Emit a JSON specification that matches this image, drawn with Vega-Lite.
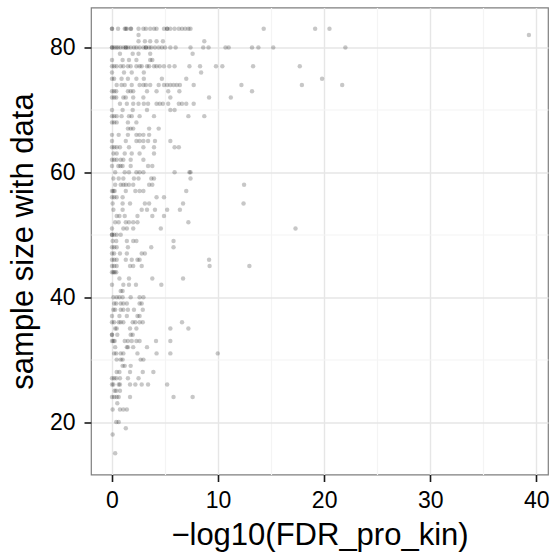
{
  "$schema": "https://vega.github.io/schema/vega-lite/v6.json",
  "autosize": {"type": "none"},
  "padding": {"left": 91, "top": 7.5, "right": 5, "bottom": 82.5},
  "width": 457,
  "height": 467,
  "background": "white",
  "config": {
    "view": {"stroke": "#7f7f7f", "strokeWidth": 1.2},
    "font": "Liberation Sans"
  },
  "datasets": {
    "pts": [
      {"x":0,"y":83},{"x":0,"y":83},{"x":0.57,"y":83},{"x":1.2,"y":83},{"x":1.3,"y":83},{"x":1.4,"y":83},{"x":1.76,"y":83},{"x":1.8,"y":83},{"x":2.5,"y":83},{"x":2.96,"y":83},{"x":3.2,"y":83},{"x":3.6,"y":83},{"x":3.96,"y":83},{"x":4.2,"y":83},{"x":4.9,"y":83},{"x":5.2,"y":83},{"x":5.2,"y":83},{"x":5.5,"y":83},{"x":5.9,"y":83},{"x":6.3,"y":83},{"x":6.6,"y":83},{"x":6.9,"y":83},{"x":7.2,"y":83},{"x":7.4,"y":83},{"x":14.3,"y":83},{"x":19.15,"y":83},{"x":20.5,"y":83},
      {"x":2.5,"y":82},{"x":39.3,"y":82},
      {"x":2.5,"y":81},{"x":3.1,"y":81},{"x":3.6,"y":81},{"x":4.2,"y":81},{"x":4.8,"y":81},{"x":8.7,"y":81},
      {"x":0,"y":80},{"x":0,"y":80},{"x":0.2,"y":80},{"x":0.4,"y":80},{"x":0.57,"y":80},{"x":0.8,"y":80},{"x":1.07,"y":80},{"x":1.3,"y":80},{"x":1.3,"y":80},{"x":1.5,"y":80},{"x":1.76,"y":80},{"x":2.07,"y":80},{"x":2.3,"y":80},{"x":2.6,"y":80},{"x":2.96,"y":80},{"x":3.2,"y":80},{"x":3.2,"y":80},{"x":3.5,"y":80},{"x":3.7,"y":80},{"x":4.05,"y":80},{"x":4.4,"y":80},{"x":4.7,"y":80},{"x":5.0,"y":80},{"x":5.5,"y":80},{"x":6.0,"y":80},{"x":7.4,"y":80},{"x":8.6,"y":80},{"x":9.1,"y":80},{"x":10.7,"y":80},{"x":11.0,"y":80},{"x":13.2,"y":80},{"x":13.8,"y":80},{"x":15.2,"y":80},{"x":22.0,"y":80},
      {"x":0.75,"y":79},{"x":1.95,"y":79},{"x":2.5,"y":79},{"x":3.6,"y":79},{"x":7.6,"y":79},
      {"x":0,"y":78},{"x":1.0,"y":78},{"x":1.6,"y":78},{"x":2.3,"y":78},{"x":3.6,"y":78},{"x":3.8,"y":78},
      {"x":0,"y":77},{"x":0.2,"y":77},{"x":0.44,"y":77},{"x":0.82,"y":77},{"x":1.07,"y":77},{"x":1.5,"y":77},{"x":1.76,"y":77},{"x":2.3,"y":77},{"x":2.6,"y":77},{"x":2.8,"y":77},{"x":3.3,"y":77},{"x":3.5,"y":77},{"x":3.96,"y":77},{"x":4.2,"y":77},{"x":4.5,"y":77},{"x":4.9,"y":77},{"x":5.4,"y":77},{"x":5.9,"y":77},{"x":7.3,"y":77},{"x":8.3,"y":77},{"x":9.8,"y":77},{"x":10.4,"y":77},{"x":13.3,"y":77},{"x":17.7,"y":77},
      {"x":0,"y":76},{"x":1.13,"y":76},{"x":1.86,"y":76},{"x":3.0,"y":76},{"x":8.4,"y":76},
      {"x":0,"y":75},{"x":0.2,"y":75},{"x":0.9,"y":75},{"x":1.5,"y":75},{"x":2.3,"y":75},{"x":3.0,"y":75},{"x":4.7,"y":75},{"x":7.0,"y":75},{"x":19.8,"y":75},
      {"x":0.44,"y":74},{"x":0.9,"y":74},{"x":1.2,"y":74},{"x":1.86,"y":74},{"x":2.6,"y":74},{"x":2.96,"y":74},{"x":3.2,"y":74},{"x":3.6,"y":74},{"x":4.4,"y":74},{"x":4.9,"y":74},{"x":5.2,"y":74},{"x":5.5,"y":74},{"x":5.8,"y":74},{"x":6.1,"y":74},{"x":6.4,"y":74},{"x":7.7,"y":74},{"x":12.2,"y":74},{"x":17.9,"y":74},{"x":21.7,"y":74},
      {"x":0,"y":73},{"x":0.2,"y":73},{"x":0.4,"y":73},{"x":1.5,"y":73},{"x":1.76,"y":73},{"x":2.0,"y":73},{"x":3.3,"y":73},{"x":4.2,"y":73},{"x":5.3,"y":73},{"x":6.35,"y":73},{"x":13.2,"y":73},
      {"x":0,"y":72},{"x":0.2,"y":72},{"x":0.4,"y":72},{"x":1.07,"y":72},{"x":1.3,"y":72},{"x":2.0,"y":72},{"x":2.96,"y":72},{"x":5.5,"y":72},{"x":9.15,"y":72},{"x":11.2,"y":72},
      {"x":0.75,"y":71},{"x":1.4,"y":71},{"x":2.0,"y":71},{"x":2.5,"y":71},{"x":3.0,"y":71},{"x":3.4,"y":71},{"x":4.2,"y":71},{"x":4.5,"y":71},{"x":4.8,"y":71},{"x":5.3,"y":71},{"x":6.3,"y":71},{"x":6.6,"y":71},{"x":7.0,"y":71},{"x":7.7,"y":71},
      {"x":0,"y":70},{"x":1.0,"y":70},{"x":1.95,"y":70},{"x":3.3,"y":70},{"x":5.5,"y":70},{"x":5.9,"y":70},
      {"x":0,"y":69},{"x":0.2,"y":69},{"x":0.44,"y":69},{"x":0.9,"y":69},{"x":1.6,"y":69},{"x":1.86,"y":69},{"x":2.6,"y":69},{"x":3.96,"y":69},{"x":7.2,"y":69},{"x":8.7,"y":69},
      {"x":0,"y":68},{"x":0.2,"y":68},{"x":0.44,"y":68},{"x":1.5,"y":68},{"x":2.3,"y":68},
      {"x":1.5,"y":67},{"x":1.76,"y":67},{"x":2.0,"y":67},{"x":3.5,"y":67},{"x":4.4,"y":67},
      {"x":0,"y":66},{"x":0.63,"y":66},{"x":1.5,"y":66},{"x":2.3,"y":66},{"x":2.6,"y":66},{"x":2.96,"y":66},{"x":3.5,"y":66},
      {"x":0,"y":65},{"x":1.3,"y":65},{"x":2.3,"y":65},{"x":2.6,"y":65},{"x":2.96,"y":65},{"x":3.4,"y":65},{"x":4.05,"y":65},{"x":5.5,"y":65},
      {"x":0,"y":64},{"x":0.2,"y":64},{"x":0.44,"y":64},{"x":0.75,"y":64},{"x":1.6,"y":64},{"x":2.96,"y":64},{"x":3.96,"y":64},{"x":5.9,"y":64},{"x":6.3,"y":64},
      {"x":0.13,"y":63},{"x":0.44,"y":63},{"x":1.2,"y":63},{"x":1.86,"y":63},{"x":2.6,"y":63},{"x":3.96,"y":63},
      {"x":0,"y":62},{"x":0.2,"y":62},{"x":0.44,"y":62},{"x":0.82,"y":62},{"x":1.07,"y":62},{"x":1.76,"y":62},{"x":2.96,"y":62},
      {"x":0,"y":61},{"x":0.6,"y":61},{"x":0.8,"y":61},{"x":1.0,"y":61},{"x":1.76,"y":61},{"x":3.4,"y":61},{"x":3.8,"y":61},
      {"x":0.3,"y":60},{"x":1.2,"y":60},{"x":1.6,"y":60},{"x":2.3,"y":60},{"x":2.6,"y":60},{"x":2.96,"y":60},{"x":5.9,"y":60},{"x":7.3,"y":60},{"x":7.4,"y":60},
      {"x":0.13,"y":59},{"x":0.63,"y":59},{"x":1.07,"y":59},{"x":2.07,"y":59},{"x":2.5,"y":59},{"x":3.7,"y":59},{"x":3.96,"y":59},{"x":7.4,"y":59},
      {"x":0.3,"y":58},{"x":0.82,"y":58},{"x":1.07,"y":58},{"x":1.3,"y":58},{"x":1.6,"y":58},{"x":2.0,"y":58},{"x":3.5,"y":58},{"x":3.8,"y":58},{"x":12.45,"y":58},
      {"x":0,"y":57},{"x":0.13,"y":57},{"x":0.25,"y":57},{"x":1.3,"y":57},{"x":2.2,"y":57},{"x":2.6,"y":57},{"x":2.96,"y":57},{"x":7.0,"y":57},
      {"x":0,"y":56},{"x":0.2,"y":56},{"x":0.44,"y":56},{"x":1.0,"y":56},{"x":4.2,"y":56},{"x":4.9,"y":56},
      {"x":0.06,"y":55},{"x":1.0,"y":55},{"x":1.7,"y":55},{"x":3.1,"y":55},{"x":3.5,"y":55},{"x":6.7,"y":55},{"x":12.4,"y":55},
      {"x":0.13,"y":54},{"x":1.0,"y":54},{"x":2.8,"y":54},{"x":3.3,"y":54},{"x":4.05,"y":54},{"x":5.2,"y":54},{"x":6.4,"y":54},
      {"x":0.44,"y":53},{"x":0.7,"y":53},{"x":1.2,"y":53},{"x":2.4,"y":53},{"x":3.8,"y":53},{"x":4.9,"y":53},
      {"x":0.3,"y":52},{"x":0.63,"y":52},{"x":1.3,"y":52},{"x":1.6,"y":52},{"x":2.0,"y":52},{"x":2.4,"y":52},{"x":7.2,"y":52},
      {"x":0,"y":51},{"x":1.07,"y":51},{"x":1.4,"y":51},{"x":2.0,"y":51},{"x":4.6,"y":51},{"x":17.3,"y":51},
      {"x":0,"y":50},{"x":0,"y":50},{"x":0.2,"y":50},{"x":0.44,"y":50},{"x":0.82,"y":50},
      {"x":0.06,"y":49},{"x":0.4,"y":49},{"x":1.4,"y":49},{"x":2.0,"y":49},{"x":2.3,"y":49},{"x":5.8,"y":49},
      {"x":0,"y":48},{"x":0.2,"y":48},{"x":0.44,"y":48},{"x":1.5,"y":48},{"x":3.7,"y":48},{"x":5.8,"y":48},
      {"x":0,"y":47},{"x":0.2,"y":47},{"x":0.75,"y":47},{"x":1.4,"y":47},{"x":2.8,"y":47},{"x":3.1,"y":47},
      {"x":0,"y":46},{"x":0.2,"y":46},{"x":0.44,"y":46},{"x":1.3,"y":46},{"x":1.86,"y":46},{"x":2.4,"y":46},{"x":2.6,"y":46},{"x":9.15,"y":46},
      {"x":0,"y":45},{"x":0.2,"y":45},{"x":0.44,"y":45},{"x":1.7,"y":45},{"x":2.0,"y":45},{"x":2.8,"y":45},{"x":9.2,"y":45},{"x":12.95,"y":45},
      {"x":0,"y":44},{"x":0.13,"y":44},{"x":0.25,"y":44},{"x":0.4,"y":44},
      {"x":0.7,"y":43},{"x":1.6,"y":43},{"x":3.8,"y":43},{"x":6.7,"y":43},
      {"x":0,"y":42},{"x":1.07,"y":42},{"x":1.6,"y":42},{"x":2.26,"y":42},{"x":4.65,"y":42},
      {"x":0.82,"y":41},{"x":1.0,"y":41},
      {"x":0.13,"y":40},{"x":0.44,"y":40},{"x":0.7,"y":40},{"x":1.0,"y":40},{"x":1.76,"y":40},{"x":2.6,"y":40},{"x":2.96,"y":40},
      {"x":0.2,"y":39},{"x":0.4,"y":39},{"x":0.82,"y":39},{"x":1.07,"y":39},{"x":1.4,"y":39},{"x":2.6,"y":39},{"x":2.8,"y":39},
      {"x":0.13,"y":38},{"x":0.3,"y":38},{"x":0.82,"y":38},{"x":1.07,"y":38},{"x":1.5,"y":38},{"x":2.07,"y":38},{"x":2.9,"y":38},
      {"x":0,"y":37},{"x":0.7,"y":37},{"x":1.4,"y":37},{"x":2.4,"y":37},{"x":2.6,"y":37},
      {"x":0,"y":36},{"x":0.2,"y":36},{"x":0.63,"y":36},{"x":0.82,"y":36},{"x":1.07,"y":36},{"x":1.95,"y":36},{"x":2.2,"y":36},{"x":2.6,"y":36},{"x":2.9,"y":36},{"x":6.6,"y":36},
      {"x":0.3,"y":35},{"x":0.44,"y":35},{"x":1.7,"y":35},{"x":2.3,"y":35},{"x":5.5,"y":35},{"x":7.2,"y":35},
      {"x":0,"y":34},{"x":0,"y":34},{"x":0.5,"y":34},{"x":1.76,"y":34},{"x":1.95,"y":34},
      {"x":0,"y":33},{"x":0.13,"y":33},{"x":0.25,"y":33},{"x":1.2,"y":33},{"x":1.5,"y":33},{"x":1.86,"y":33},{"x":2.3,"y":33},{"x":2.6,"y":33},{"x":4.15,"y":33},{"x":5.5,"y":33},
      {"x":0.3,"y":32},{"x":1.4,"y":32},{"x":1.5,"y":32},{"x":2.0,"y":32},{"x":3.3,"y":32},
      {"x":0.2,"y":31},{"x":0.4,"y":31},{"x":0.82,"y":31},{"x":1.07,"y":31},{"x":2.4,"y":31},{"x":4.2,"y":31},{"x":5.5,"y":31},{"x":9.97,"y":31},
      {"x":0.44,"y":30},{"x":0.82,"y":30},{"x":1.0,"y":30},{"x":2.7,"y":30},{"x":2.96,"y":30},
      {"x":1.0,"y":29},{"x":1.2,"y":29},{"x":1.76,"y":29},
      {"x":0.44,"y":28},{"x":0.7,"y":28},{"x":1.7,"y":28},{"x":2.9,"y":28},{"x":3.9,"y":28},
      {"x":0,"y":27},{"x":0.2,"y":27},{"x":0.4,"y":27},{"x":0.75,"y":27},{"x":1.5,"y":27},{"x":2.5,"y":27},
      {"x":0,"y":26},{"x":0.13,"y":26},{"x":0.63,"y":26},{"x":0.75,"y":26},{"x":1.7,"y":26},{"x":2.2,"y":26},{"x":2.8,"y":26},{"x":3.4,"y":26},{"x":5.2,"y":26},
      {"x":0.25,"y":25},{"x":0.4,"y":25},{"x":0.75,"y":25},
      {"x":0,"y":24},{"x":0.2,"y":24},{"x":0.44,"y":24},{"x":0.63,"y":24},{"x":1.7,"y":24},{"x":5.8,"y":24},{"x":7.6,"y":24},
      {"x":0.5,"y":23},
      {"x":0.06,"y":22},{"x":0.75,"y":22},{"x":1.07,"y":22},{"x":1.4,"y":22},
      {"x":0.4,"y":20},{"x":0.63,"y":20},
      {"x":1.3,"y":19},
      {"x":0.06,"y":18},
      {"x":0.3,"y":15}
    ]
  },
  "data": {"name": "pts"},
  "mark": {"type": "circle", "size": 20, "color": "black", "opacity": 0.22},
  "encoding": {
    "x": {
      "field": "x", "type": "quantitative",
      "scale": {"domain": [-1.98, 41.1], "nice": false, "zero": false},
      "axis": {
        "title": "−log10(FDR_pro_kin)",
        "values": [0, 5, 10, 15, 20, 25, 30, 35, 40],
        "labelExpr": "datum.value % 10 === 0 ? datum.label : ''",
        "domain": false,
        "grid": true,
        "gridColor": {"condition": {"test": "datum.value % 10 === 0", "value": "#e6e6e6"}, "value": "#f4f4f4"},
        "gridWidth": {"condition": {"test": "datum.value % 10 === 0", "value": 1.4}, "value": 1.2},
        "ticks": true,
        "tickColor": "#1a1a1a",
        "tickOpacity": {"condition": {"test": "datum.value % 10 === 0", "value": 1}, "value": 0},
        "tickSize": 7,
        "tickWidth": 1.6,
        "labelFont": "Liberation Sans",
        "labelFontSize": 23,
        "labelColor": "#000000",
        "labelPadding": 8,
        "titleFont": "Liberation Sans",
        "titleFontSize": 31,
        "titleFontWeight": "normal",
        "titleColor": "#000000",
        "titlePadding": 8
      }
    },
    "y": {
      "field": "y", "type": "quantitative",
      "scale": {"domain": [11.6, 86.4], "nice": false, "zero": false},
      "axis": {
        "title": "sample size with data",
        "values": [20, 30, 40, 50, 60, 70, 80],
        "labelExpr": "datum.value % 20 === 0 ? datum.label : ''",
        "domain": false,
        "grid": true,
        "gridColor": {"condition": {"test": "datum.value % 20 === 0", "value": "#e6e6e6"}, "value": "#f4f4f4"},
        "gridWidth": {"condition": {"test": "datum.value % 20 === 0", "value": 1.4}, "value": 1.2},
        "ticks": true,
        "tickColor": "#1a1a1a",
        "tickOpacity": {"condition": {"test": "datum.value % 20 === 0", "value": 1}, "value": 0},
        "tickSize": 7,
        "tickWidth": 1.6,
        "labelFont": "Liberation Sans",
        "labelFontSize": 23,
        "labelColor": "#000000",
        "labelPadding": 9,
        "titleFont": "Liberation Sans",
        "titleFontSize": 31,
        "titleFontWeight": "normal",
        "titleColor": "#000000",
        "titlePadding": 10
      }
    }
  }
}
